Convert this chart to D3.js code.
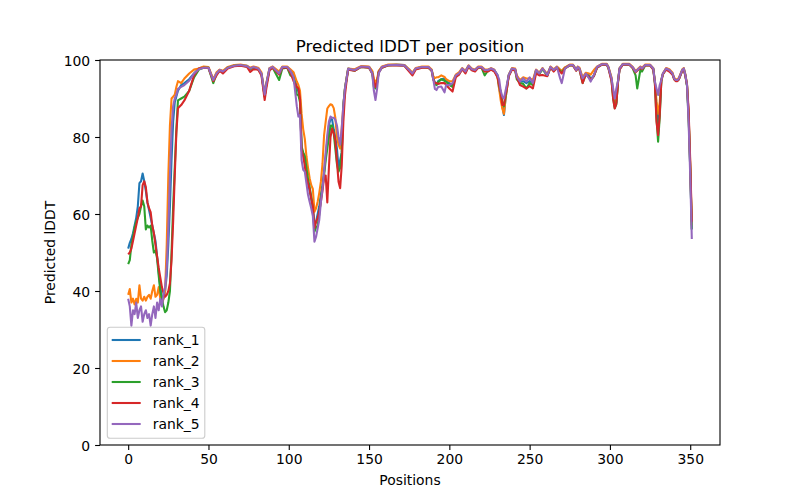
<!DOCTYPE html>
<html><head><meta charset="utf-8">
<script src="https://cdn.jsdelivr.net/npm/d3@7/dist/d3.min.js"></script>
<style>body{margin:0;background:#fff}svg{display:block}</style>
</head><body><svg id="c" width="800" height="500"></svg>
<script>
const positions = [
  0,1,2,3,4,5,6,7,8,9,10,11,12,13,14,15,16,17,18,19,20,21,22,23,24,25,26,27,28,29,30,31,
  33,35,38,41,44,47,50,53,55,57,59,62,66,70,74,76,78,81,83,85,86,88,90,94,96,99,101,103,105,106,107,
  108,109,110,111,112,113,114,115,116,117,118,119,120,121,122,123,124,125,126,127,128,129,130,131,132,133,134,135,136,137,
  141,145,150,152,153,154,155,156,158,162,167,172,175,177,179,183,187,189,190,191,192,193,195,197,198,200,202,204,206,208,210,212,214,216,218,220,222,224,226,228,
  230,231,232,233,234,235,236,237,239,241,242,244,246,248,250,252,254,256,258,261,263,265,267,269,270,272,275,277,279,280,281,283,285,287,288,290,292,295,298,299,
  301,302,303,304,305,306,308,312,314,316,317,319,320,322,325,327,328,329,330,331,332,333,335,337,339,340,341,342,343,345,346,347,348,349,350,351
];
const rank_1 = [
  51,52.5,53.5,55,57,59,62,68,68.5,70.5,68.5,66,63,61,59,57,55,53,49,45,41,38.5,38,40,44,52,62,74,84,89,90.5,92,
  93.5,94,95,96.5,97.8,98.2,98,94.8,96.5,97.4,97,98,98.6,98.7,98.5,97.8,98.2,97.8,96.5,90.5,93.5,97.8,98.2,96.5,98.2,98.2,97.4,96.5,93,91.8,90,
  77,75.5,74,70,68,66,64,62,57,58,60,62,65,67.5,71,75,79,83,84.8,84.5,82,80,77,72,74,76,88.3,92.6,95.2,97.8,
  97.4,98.3,98.2,97,94.5,93,94.4,97,98.2,98.7,98.8,98.7,97.4,96.5,97.8,98.2,98.2,97.4,95.5,94,93.5,94.5,95,95.2,94.5,94,93.5,96,96.5,97.8,97,98.5,97.6,97.4,98.2,98.2,97.4,97.4,97.8,97.4,
  96.1,92.6,91,88,85.7,90,93,96.1,97.8,97.6,95.7,94.4,94.5,94,94.5,94,97.4,96.5,97.8,96.1,98.2,97.4,98.2,97.4,97,98,98.7,98.7,97.4,98.2,97.8,95.2,96.5,96,95,96,98.2,98.9,98.9,98.2,
  95.2,91,88,89,94.4,97.8,98.9,98.9,98.2,97,97.4,98.2,97.8,98.7,98.7,97.8,94.4,88,82,87,94.8,96.5,97.8,97.4,96.5,95.2,94.8,94.8,95.2,97.4,97.8,96.1,93.5,86,72,56
];
const rank_2 = [
  39,40.5,37,38,36.5,38,37,41.5,38,37.5,38.5,37.5,38.5,39,38,40,41.5,38.5,39,41,38,36.5,38,40,52,70,83,90,90.5,91,93,94.5,
  94,95.2,96.5,97.5,97.8,98.3,98.2,95,96.8,97.5,97.2,98.2,98.7,98.8,98.5,98,98.3,98,96.8,91,94,97.9,98.3,97,98.3,98.3,97.6,96.8,94.4,93.5,92,
  86,82,79.5,75,72,69.3,67.5,66.5,60.6,61.5,63.2,65.5,68.4,73,80.5,84,87.4,88,88.5,88.3,87.5,85,80,78,77,82.3,88.3,92.6,95.4,97.8,
  97.6,98.4,98.3,97.2,95.2,94,95,97.2,98.3,98.8,98.8,98.7,97.6,96.7,97.9,98.3,98.3,97.5,95.8,95.3,95.5,95.5,96,95.6,95,94.5,94.5,96.2,96.8,97.9,97.2,98.6,97.8,97.5,98.3,98.3,97.6,97.5,97.9,97.5,
  95.5,92.6,89.5,87.4,86,90,93,96.2,97.9,97.8,96,94.8,95.5,95.2,95.2,94.8,97.5,96.7,97.9,96.3,98.3,97.6,98.3,97.5,97.2,98.1,98.8,98.8,97.6,98.3,98,95.5,96.7,96.5,96.2,97.4,98.3,99,99,98.3,
  95.5,91.5,88.5,89.5,94.5,97.9,99,99,98.3,97.2,97.5,98.3,98,98.8,98.8,97.9,94.5,89.3,86,89,94.8,96.5,97.9,97.6,96.7,95.4,95,95,95.4,97.5,97.9,96.3,93.8,86,73,57
];
const rank_3 = [
  47,48,52,54,56.5,58,59,60,62,63.5,62,56,57,56.5,57,53,50,50.5,48.5,44,40,38,36,34.5,35,37,40,50,62,72,82,89.5,
  90,90.5,92,95.5,97.5,98,98,94,96.3,97.2,96.8,98,98.5,98.6,98.3,97.6,98,97.5,96.3,90.5,93.5,97.5,98,94.8,97.8,98,96,95.5,91,90.9,89,
  77.5,76,75,72,69,67,64.5,61,55.4,56.5,57,60,64,67,70,74,77,80,83,83,81,77,73,71,72,76,88,92.5,95,97.6,
  97.2,98.2,98,96.5,93,92.6,94,96.8,98,98.6,98.7,98.5,97.2,96.3,97.6,98.1,98,97.2,95,94,93.5,94.2,95,94.6,94.3,93.5,93,95.8,96.3,97.6,96.8,98.3,97.4,97.2,98,98,96,97.2,97.6,97.2,
  95.8,93.5,91.5,89,88,90.5,93.5,96,97.6,97.4,95,94,93.8,92.6,94,93.5,97.2,96.3,97.6,95.9,98,97.2,98,97.2,96.8,97.8,98.6,98.6,97.3,98,97.6,94,96.3,95.5,94.8,95.8,98,98.8,98.8,98,
  94.8,90,87.5,88.5,94.2,97.6,98.8,98.8,98,96,92.6,97.5,97,98.6,98.6,97.6,94,85,78.8,85,94.5,96.3,97.6,97.2,96.3,95,94.6,94.6,95,97.2,97.6,95.9,93.2,85,72,56
];
const rank_4 = [
  49.5,50,51,53,55,57,59,61.5,62,67.5,68.5,67,63,61.5,60.5,57,55,52,49,46,43.5,41,39.5,38.5,39,40,42,48,58,70,81,87.5,
  88.3,89.5,92,96,97.8,98,97.9,94.5,96,97.2,96.5,97.8,98.4,98.5,98.2,96.9,97.6,97.5,96,89.6,92.5,97.3,98,96.2,98,98,96.8,94.5,93,92.6,90,
  76.5,75,72.5,69.5,68,66.5,64,62,56.3,58,59,60.5,63.2,66,69.5,70,63,72,80,82.2,81,79,73.6,68.4,66.7,72.7,84,90.9,94.5,97.5,
  97.2,98.2,98,96.5,94.4,93,94.2,96.8,98,98.6,98.6,98.5,97,96,97.5,98,98,97.2,95,94,94,93.8,94,94,93.5,92.6,91.8,95.5,96.2,97.6,96.5,98.3,97.3,97,98,98,97,97,97.5,97,
  95.5,93.5,91.6,88.3,88.3,91,93,95.8,97.5,97.3,95.5,93.5,93.1,92.6,93.2,92.6,96.5,96,96.1,95.8,98,97,98,97,96.5,97.8,98.6,98.6,97.2,98,97.6,94,96.3,95.5,94.8,95.8,98,98.8,98.8,98,
  94.5,90,87.4,88.7,94,97.5,98.8,98.8,98,96.8,97.2,98,97.6,98.6,98.6,97.5,94,84,80.5,85.7,94.5,96.3,97.5,97,96.2,95,94.5,94.5,95,97.2,97.5,95.8,93.5,87,74,58
];
const rank_5 = [
  38,36,31,35,34,37,33,35,36,32,34,35,33,34,31,34,36,33,37,35,38,36,39,41,46,56,70,82,88,90,91,92.5,
  93,93.5,94.6,96.5,97.6,98,98,94.8,96.5,97.4,97,98,98.5,98.7,98.4,97.8,98.2,97.8,96.5,91,93.8,97.8,98.2,96.5,98.2,98.2,97.2,95.5,88,85.3,85.7,
  74,71.5,71,68,65,63.2,61.5,59.5,52.8,54.1,56.3,58.5,63,66.5,71,76,80.5,84,85.3,85,85,84.5,83,80,78,82.3,88.3,92.6,95.2,97.7,
  97.4,98.3,98.2,96.5,92,89.6,92.5,96.5,98.2,98.7,98.7,98.6,97.4,96.5,97.8,98.2,98.2,97.3,95,92.5,92.2,93,93.1,91.6,93.5,93.5,94,96,96.5,97.8,97,98.5,97.6,97.4,98.2,98.2,97.4,97.4,97.8,97.4,
  96.1,95,92,90.5,90,92,94,96.1,97.8,97.6,95.7,94.4,95.3,94.4,95.5,94,97.4,96.5,97.8,96.1,98.2,97.4,98.2,95.2,94,97.8,98.7,98.7,97.4,98.2,97.8,95.2,96.5,95.2,94.4,96.1,98.2,98.9,98.9,98.2,
  95.2,92.6,90,92.6,94.4,97.8,98.9,98.9,98.2,97,97.4,98.2,97.8,98.7,98.7,97.8,94.4,92.6,90.9,93.5,94.8,96.5,97.8,97.4,96.5,95.2,94.8,94.8,95.2,97.4,97.8,96.1,93.5,84,70,53.5
];
const seriesNames = ["rank_1","rank_2","rank_3","rank_4","rank_5"];
const seriesValues = [rank_1, rank_2, rank_3, rank_4, rank_5];
const colors = ["#1f77b4","#ff7f0e","#2ca02c","#d62728","#9467bd"];
const xTicks = [0,50,100,150,200,250,300,350];
const yTicks = [0,20,40,60,80,100];
const titleText = "Predicted lDDT per position";
const xLabel = "Positions";
const yLabel = "Predicted lDDT";

const font = "DejaVu Sans, sans-serif";
const L = 100, R = 720, T = 60, B = 445;
const svg = d3.select("#c");
const xMax = d3.max(positions), pad = xMax * 0.05;
const x = d3.scaleLinear().domain([-pad, xMax + pad]).range([L, R]);
const y = d3.scaleLinear().domain([0, 100]).range([B, T]);

svg.append("defs").append("clipPath").attr("id","clip")
  .append("rect").attr("x",L).attr("y",T).attr("width",R-L).attr("height",B-T);

const line = d3.line().x(d => x(d[0])).y(d => y(d[1]));
const g = svg.append("g").attr("clip-path","url(#clip)");
seriesValues.forEach((vals, i) => {
  const pts = positions.map((p, k) => [p, vals[k]]);
  g.append("path").datum(pts).attr("d", line)
    .attr("fill","none").attr("stroke",colors[i]).attr("stroke-width",2.08)
    .attr("stroke-linejoin","round").attr("stroke-linecap","butt");
});

// axes
const xAxis = svg.append("g").attr("transform",`translate(0,${B})`)
  .call(d3.axisBottom(x).tickValues(xTicks).tickSize(4.9).tickPadding(3.5).tickSizeOuter(0));
const yAxis = svg.append("g").attr("transform",`translate(${L},0)`)
  .call(d3.axisLeft(y).tickValues(yTicks).tickSize(4.9).tickPadding(3.5).tickSizeOuter(0));
[xAxis, yAxis].forEach(a => {
  a.select(".domain").remove();
  a.selectAll(".tick line").attr("stroke","#000").attr("stroke-width",1.1);
  a.selectAll(".tick text").attr("fill","#000").style("font-family",font).style("font-size","13.9px");
});
xAxis.selectAll(".tick text").attr("dy","0.71em").attr("y", 9.4);
yAxis.selectAll(".tick text").attr("x", -9.8).attr("dy","0.36em");

// frame
svg.append("rect").attr("x",L).attr("y",T).attr("width",R-L).attr("height",B-T)
  .attr("fill","none").attr("stroke","#000").attr("stroke-width",1.1);

// title and labels
svg.append("text").attr("x",(L+R)/2).attr("y",52).attr("text-anchor","middle")
  .style("font-family",font).style("font-size","16.7px").text(titleText);
svg.append("text").attr("x",(L+R)/2).attr("y",485).attr("text-anchor","middle")
  .style("font-family",font).style("font-size","13.9px").text(xLabel);
svg.append("text").attr("transform",`translate(55,${(T+B)/2}) rotate(-90)`).attr("text-anchor","middle")
  .style("font-family",font).style("font-size","13.9px").text(yLabel);

// legend
const lg = svg.append("g");
lg.append("rect").attr("x",107.3).attr("y",327.3).attr("width",97.5).attr("height",111)
  .attr("rx",2.8).attr("fill","#fff").attr("fill-opacity",0.8).attr("stroke","#cccccc").attr("stroke-width",1.1);
seriesNames.forEach((name, i) => {
  const cy = 340 + i * 21;
  lg.append("line").attr("x1",111.7).attr("x2",140.7).attr("y1",cy).attr("y2",cy)
    .attr("stroke",colors[i]).attr("stroke-width",2.08);
  lg.append("text").attr("x",152.7).attr("y",cy + 5.2)
    .style("font-family",font).style("font-size","13.9px").text(name);
});
</script></body></html>
